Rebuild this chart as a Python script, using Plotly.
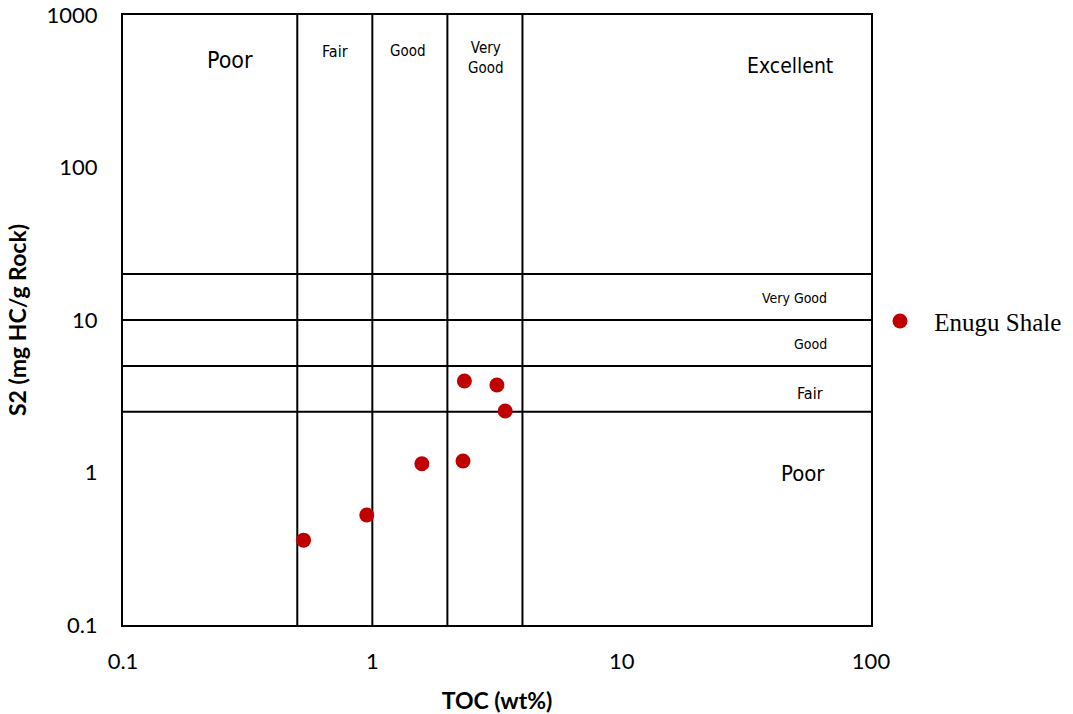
import plotly.graph_objects as go
import numpy as np

# Data
toc = [0.53, 0.95, 1.58, 2.31, 2.34, 3.16, 3.41]
s2 = [0.36, 0.526, 1.14, 1.19, 3.98, 3.75, 2.53]
series_name = "Enugu Shale"

toc_bounds = [0.5, 1, 2, 4]
s2_bounds = [2.5, 5, 10, 20]

x_ticks = [0.1, 1, 10, 100]
y_ticks = [0.1, 1, 10, 100, 1000]

top_labels = ["Poor", "Fair", "Good", "Very<br>Good", "Excellent"]
top_x = [0.269, 0.71, 1.39, 2.86, 47.3]
top_y = [507, 580, 580, 522, 464]
top_sizes = [23, 16, 15, 15, 21]

right_labels = ["Very Good", "Good", "Fair", "Poor"]
right_x = [49.5, 57, 57, 53.5]
right_y = [13.9, 6.96, 3.32, 0.99]
right_sizes = [14, 14, 16, 22]

LABEL_FONT = "DejaVu Sans Condensed, sans-serif"

fig = go.Figure()

for v in toc_bounds:
    fig.add_trace(go.Scatter(x=[v, v], y=[0.1, 1000], mode="lines",
                             line=dict(color="black", width=2),
                             showlegend=False, hoverinfo="skip"))
for v in s2_bounds:
    fig.add_trace(go.Scatter(x=[0.1, 100], y=[v, v], mode="lines",
                             line=dict(color="black", width=2),
                             showlegend=False, hoverinfo="skip"))

for lab, xx, yy, sz in zip(top_labels, top_x, top_y, top_sizes):
    fig.add_annotation(x=np.log10(xx), y=np.log10(yy), text=lab, showarrow=False,
                       font=dict(family=LABEL_FONT, size=sz, color="black"))
for lab, xx, yy, sz in zip(right_labels, right_x, right_y, right_sizes):
    fig.add_annotation(x=np.log10(xx), y=np.log10(yy), text=lab, showarrow=False,
                       font=dict(family=LABEL_FONT, size=sz, color="black"))

fig.add_trace(go.Scatter(x=toc, y=s2, mode="markers", name="&nbsp;" + series_name,
                         marker=dict(color="#C00000", size=15)))

fig.update_xaxes(type="log", range=[-1, 2], tickvals=x_ticks,
                 ticktext=[str(t) for t in x_ticks], automargin=False,
                 showgrid=False, zeroline=False, showline=True, mirror=True,
                 linecolor="black", linewidth=2, ticks="",
                 tickfont=dict(family="Lato", size=22, color="black"),
                 ticklabelstandoff=16,
                 title=dict(text="<b>TOC (wt%)</b>", font=dict(family="Lato", size=23, color="black"),
                            standoff=19))
fig.update_yaxes(type="log", range=[-1, 3], tickvals=y_ticks,
                 ticktext=[str(t) for t in y_ticks], automargin=False,
                 showgrid=False, zeroline=False, showline=True, mirror=True,
                 linecolor="black", linewidth=2, ticks="",
                 tickfont=dict(family="Lato", size=22, color="black"),
                 ticklabelstandoff=19,
                 title=dict(text="<b>S2 (mg HC/g Rock)</b>", font=dict(family="Lato", size=23, color="black"),
                            standoff=14))

fig.update_layout(width=1073, height=714,
                  margin=dict(l=123, r=202, t=15, b=89),
                  plot_bgcolor="white", paper_bgcolor="white",
                  legend=dict(xref="container", x=872 / 1073, xanchor="left",
                              y=0.498, yanchor="middle", itemwidth=46,
                              font=dict(family="Liberation Serif", size=25, color="black"),
                              bgcolor="rgba(0,0,0,0)"))

fig.write_html("out.html")
